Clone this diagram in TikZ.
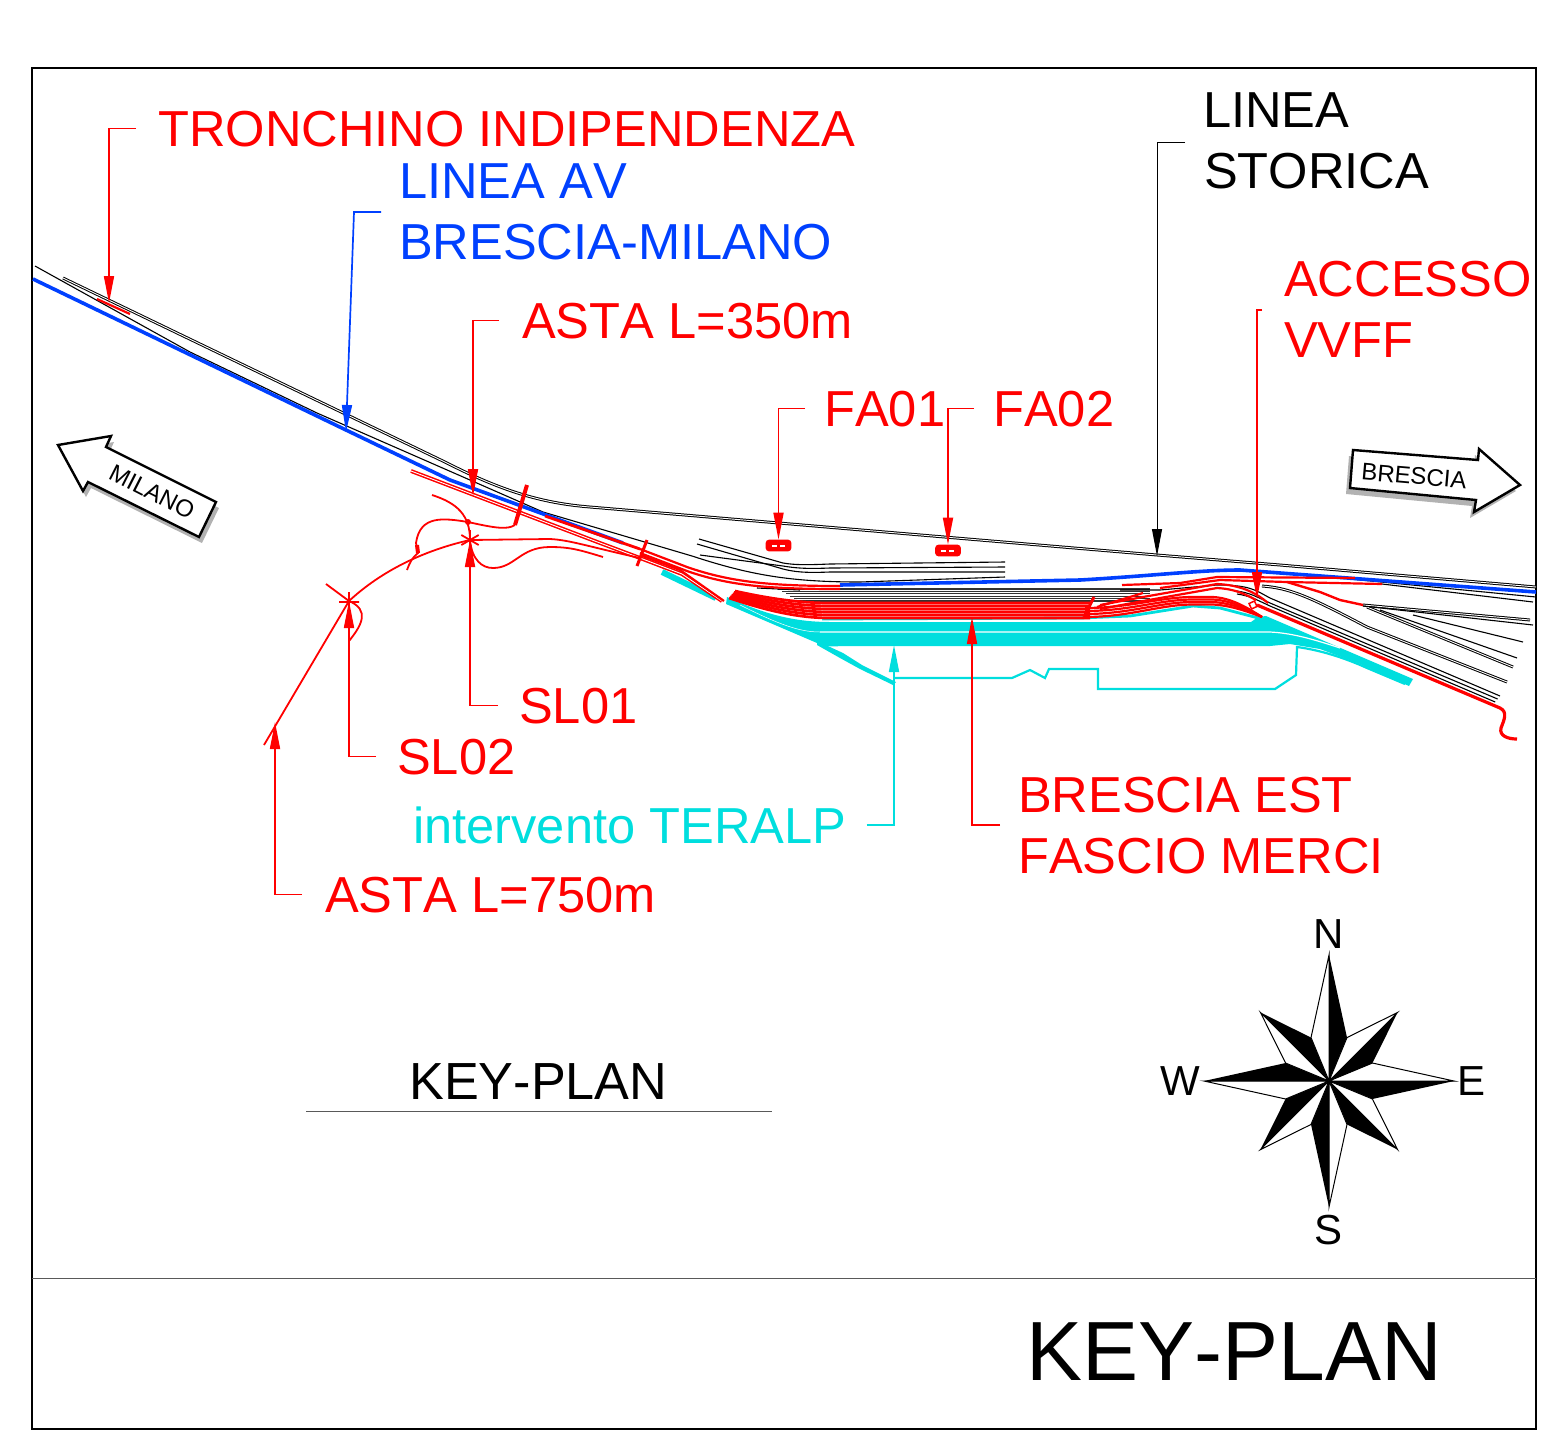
\documentclass[tikz,border=0pt]{standalone}
\usepackage{fontspec}
\setmainfont[Kerning=Off]{Liberation Sans}
\usetikzlibrary{arrows.meta, calc}
\definecolor{avblue}{RGB}{0,64,255}
\definecolor{tealp}{RGB}{0,222,222}
\tikzstyle{lbl}=[inner sep=0pt, anchor=base west, font=\fontsize{50.6}{60}\selectfont]
\tikzstyle{leader}=[line width=1.7pt, -{Triangle[length=27pt,width=10pt]}]
\tikzstyle{trk}=[black, line width=1.1pt]
\tikzstyle{dtrk}=[double=white, double distance=0.9pt, line width=1pt]
\tikzstyle{rtrk}=[red, line width=2.2pt]
\tikzstyle{cutl}=[red, line width=1.8pt]
\tikzstyle{fabox}=[shape=rectangle, rounded corners=2.5pt, draw=red, fill=red, line width=1.6pt, inner sep=0pt, minimum width=24pt, minimum height=10pt]
\tikzstyle{pointer}=[draw=black, fill=white, line width=2.4pt, line join=miter]
\newcommand{\milanopath}{(58,445) -- (111,436) -- (106,447) -- (216,502) -- (199,537) -- (88,482) -- (83,491) -- cycle}
\newcommand{\bresciapath}{(1353,450) -- (1478,460) -- (1479,449) -- (1520,485) -- (1474,512) -- (1476,500) -- (1350,488) -- cycle}
\begin{document}
\begin{tikzpicture}[x=1pt,y=-1pt]
\useasboundingbox (0,0) rectangle (1558,1438);
\draw[black, line width=1.6pt] (32,68) rectangle (1536,1429);
\draw[black!65, line width=1pt] (32,1278) -- (1536,1278);
%labels
\node[lbl, red] (tronchino) at (158,146) {TRONCHINO INDIPENDENZA};
\node[lbl, avblue] (lineaav) at (399,198) {LINEA AV};
\node[lbl, avblue] (bsmi) at (399,259) {BRESCIA-MILANO};
\node[lbl, red] (asta350) at (522,338) {ASTA L=350m};
\node[lbl, red] (fa01) at (824,426) {FA01};
\node[lbl, red] (fa02) at (993,426) {FA02};
\node[lbl] (linea) at (1203,127) {LINEA};
\node[lbl] (storica) at (1204,188) {STORICA};
\node[lbl, red] (accesso) at (1284,296) {ACCESSO};
\node[lbl, red] (vvff) at (1284,357) {VVFF};
\node[lbl, red] (sl01) at (519,723) {SL01};
\node[lbl, red] (sl02) at (397,774) {SL02};
\node[lbl, red] (asta750) at (325,912) {ASTA L=750m};
\node[lbl, tealp] (teralp) at (413,843) {intervento TERALP};
\node[lbl, red] (bsest) at (1018,812) {BRESCIA EST};
\node[lbl, red] (fascio) at (1018,873) {FASCIO MERCI};
\node[lbl, font=\fontsize{52.2}{60}\selectfont] (keyplan) at (409,1099) {KEY-PLAN};
\node[lbl, font=\fontsize{84}{90}\selectfont] (keybig) at (1026,1380) {KEY-PLAN};
\draw[black!65, line width=1pt] (306,1111) -- (772,1111);
%arrows to milano and brescia
\fill[black!30, shift={(3,6)}] \milanopath;
\draw[pointer] \milanopath;
\node[rotate=-27, inner sep=0pt, font=\fontsize{24}{28}\selectfont] (milano) at (152,492) {MILANO};
\fill[black!30, shift={(-4,6)}] \bresciapath;
\draw[pointer] \bresciapath;
\node[rotate=-5, inner sep=0pt, font=\fontsize{24}{28}\selectfont] (brescia) at (1414,476) {BRESCIA};
%black tracks
\draw[dtrk] (63,278) -- (447,463) .. controls (500,490) and (540,503) .. (590,507) -- (1157,555) -- (1280,565) -- (1536,587);
\draw[trk] (35,266) -- (190,352) -- (317,413) -- (543,512) -- (692,556) .. controls (750,575) and (790,582) .. (860,582) -- (1005,577);
\draw[trk] (699,539) -- (783,563) .. controls (795,565) and (805,565) .. (830,564) -- (1005,562);
\draw[trk] (697,544) -- (783,569) .. controls (795,572) and (805,573) .. (830,572) -- (1005,572);
\draw[trk] (700,555) -- (783,566) .. controls (795,568) and (805,569) .. (830,568) -- (1005,567);
\foreach \i in {0,...,5}{
\draw[black!80, line width=1.2pt] (778+4*\i,589+2.4*\i) -- (1150,589+2.4*\i);
}
\draw[trk] (757,588) -- (800,590);
\draw[trk] (1120,590) -- (1160,590) -- (1217,585) .. controls (1250,585) and (1255,590) .. (1270,598) -- (1500,696);
\foreach \j in {3,6}{
\draw[trk] (1237,588+\j) .. controls (1250,590+\j) and (1255,593+\j) .. (1270,600+\j) -- (1500-0.8*\j,696+\j);
}
\draw[dtrk] (1262,586) .. controls (1290,588) and (1310,597) .. (1367,627) -- (1507,682);
\draw[dtrk] (1367,607) -- (1513,667);
\draw[trk] (1380,610) -- (1517,658);
\draw[trk] (1413,615) -- (1523,642);
\draw[dtrk] (1363,605) -- (1530,620);
\draw[trk] (1363,606) -- (1533,625);
\draw[trk] (1382,584) -- (1533,602);
\draw[trk] (1350,579) -- (1536,597);
%blue
\draw[avblue, line width=3.6pt] (33,279) -- (346,430) -- (450,480) -- (623,543);
\draw[avblue, line width=3.6pt] (840,585) -- (1080,580) .. controls (1150,576) and (1200,570) .. (1240,570) -- (1536,592);
%teralp
\draw[tealp, line width=6pt] (662,572) -- (716,598);
\fill[tealp] (727,597) .. controls (760,612) and (790,622) .. (830,622) -- (1270,622) -- (1270,646) -- (845,646) .. controls (835,646) and (828,648) .. (817,643) -- (726,604) -- cycle;
\fill[tealp] (1258,617) -- (1266,616) -- (1413,679) -- (1409,686) -- (1360,664) -- (1320,649) -- (1290,644) -- (1270,646) -- (1240,630) -- cycle;
\fill[tealp] (817,641) -- (843,653) -- (862,665) -- (896,682) -- (893,685) -- (860,669) -- (840,658) -- (817,645) -- cycle;
\draw[white, line width=1.2pt] (820,632) -- (1270,632) .. controls (1290,633) and (1310,638) .. (1340,648);
\draw[white, line width=0.5pt] (740,605) .. controls (780,625) and (800,632) .. (820,632);
\draw[tealp, line width=2.8pt] (822,619) -- (1080,618) -- (1130,616) -- (1193,606) -- (1220,608) -- (1262,619);
\draw[tealp, line width=2.2pt] (895,678) -- (1012,678) -- (1030,670) -- (1045,678) -- (1049,669) -- (1098,669) -- (1098,689) -- (1275,689) -- (1296,675) -- (1297,647) .. controls (1320,650) and (1345,658) .. (1367,668) -- (1405,684);
%red
\draw[red, double=white, double distance=0.9pt, line width=1.5pt] (411,471) -- (600,543) -- (640,558) -- (682,574) -- (722,601);
\draw[red, line width=2.8pt] (545,516) -- (640,549);
\draw[rtrk] (97,299) -- (130,314);
\draw[rtrk] (640,549) -- (687,567) .. controls (730,582) and (770,586) .. (840,586);
\draw[rtrk] (640,553) -- (687,571) .. controls (730,586) and (770,589) .. (840,589);
\draw[rtrk] (640,555) -- (680,570) -- (724,601);
\draw[red, line width=4pt] (527,485) -- (515,525);
\draw[red, line width=3pt] (647,540) -- (637,566);
\foreach \i in {0,...,5}{
\draw[red, line width=2.7pt] (735-1.2*\i,591+1.4*\i) .. controls (762,597+2.4*\i) and (795,603+3*\i) .. (830,603+3*\i) -- (1090,603+3*\i);
}
\draw[rtrk] (1122,585) -- (1180,583) -- (1217,577) -- (1355,578);
\draw[rtrk] (1160,588) -- (1220,580) -- (1287,582) -- (1382,584);
\draw[rtrk] (1097,607) -- (1143,593);
\draw[rtrk] (1100,605) -- (1143,597) -- (1217,584) .. controls (1240,585) and (1255,592) .. (1268,603);
\draw[rtrk] (1100,609) -- (1143,601) -- (1217,588) .. controls (1235,589) and (1245,594) .. (1256,600);
\foreach \i in {0,1,2,3}{
\draw[rtrk] (1085,608+3*\i) .. controls (1130,608+3*\i) and (1160,597+2.5*\i) .. (1193,597+2.5*\i) -- (1213,597+2.5*\i) .. controls (1230,598+2.5*\i) and (1245,606+1.5*\i) .. (1262,617);
}
\draw[red, line width=2.4pt] (1287,582) -- (1320,592) -- (1340,600) -- (1363,605);
\draw[red, line width=3.2pt] (1257,605) -- (1500,708) .. controls (1508,712) and (1504,720) .. (1501,728) .. controls (1499,736) and (1508,739) .. (1517,739);
\draw[red, line width=1.5pt, rotate around={25:(1253,605)}] (1250,602) rectangle (1256,608);
\draw[red, line width=3pt] (1084,617) -- (1094,597);
%cuts
\coordinate (star1) at (470,540);
\coordinate (star2) at (349,601);
\foreach \a in {30,90,150,210,270,330}{
\draw[cutl] (star1) -- ++(\a:10);
}
\draw[cutl] (339,602) -- (359,602) (349,592) -- (349,610) (326,584) -- (349,601);
\draw[cutl] (264,745) -- (star2) .. controls (377,575) and (417,552) .. (star1) -- (550,539) .. controls (570,540) and (590,547) .. (640,558);
\draw[cutl] (star2) .. controls (370,610) and (362,625) .. (349,641);
\draw[cutl] (432,495) .. controls (457,503) and (470,515) .. (star1);
\draw[cutl] (515,525) .. controls (507,530) and (495,528) .. (468,522) .. controls (443,518) and (420,515) .. (416,543) -- (418,553) .. controls (412,558) and (410,562) .. (407,570);
\draw[cutl] (star1) .. controls (472,560) and (482,568) .. (493,568) .. controls (515,568) and (520,547) .. (550,547) .. controls (570,547) and (580,550) .. (603,557);
\draw[red, line width=4pt] (417,545) -- (418,553);
\fill[red] (468,522) circle (3);
%stops
\node[fabox] (stop1) at (778.5,545.5) {};
\node[fabox] (stop2) at (948,550.5) {};
\draw[white, line width=1.3pt] (772,546) -- (777,546) (780,546) -- (785,546) (941,551) -- (946,551) (949,551) -- (954,551);
%leaders
\coordinate (tiptron) at (109,303);
\coordinate (tipav) at (346,432);
\coordinate (avstart) at (381,212);
\coordinate (avbend) at (354,212);
\coordinate (tip350) at (473,496);
\coordinate (storstart) at (1185,142);
\coordinate (tipstor) at (1157,556);
\coordinate (accstart) at (1262,310);
\coordinate (tipacc) at (1257,599);
\coordinate (tip750) at (275,722);
\coordinate (tipter) at (894,645);
\coordinate (merstart) at (1000,825);
\coordinate (tipmer) at (972,617);
\draw[leader, red] ([xshift=-22pt]tronchino.west) -| (tiptron);
\draw[leader, avblue] (avstart) -- (avbend) -- (tipav);
\draw[leader, red] ([xshift=-23pt]asta350.west) -| (tip350);
\draw[leader, red] ([xshift=-19pt]fa01.west) -| (stop1.north);
\draw[leader, red] ([xshift=-19pt]fa02.west) -| (stop2.north);
\draw[leader, black, line width=0.9pt] (storstart) -| (tipstor);
\draw[leader, red] (accstart) -| (tipacc);
\draw[leader, red] ([xshift=-21pt]sl01.west) -| (star1);
\draw[leader, red] ([xshift=-21pt]sl02.west) -| (star2);
\draw[leader, red] ([xshift=-23pt]asta750.west) -| (tip750);
\draw[leader, tealp] ([xshift=20pt]teralp.east) -| (tipter);
\draw[leader, red] (merstart) -| (tipmer);
%compass
\begin{scope}[shift={(1329,1081)}]
\foreach \a/\r in {0/125,45/97,90/126,135/97,180/125,225/97,270/126,315/97}{
\draw[black, line width=1pt, fill=white] (0,0) -- (\a:\r) -- ({\a-22.5}:47) -- cycle;
\fill[black] (0,0) -- (\a:\r) -- ({\a+22.5}:47) -- cycle;
}
\end{scope}
\node[inner sep=0pt, anchor=base, font=\fontsize{42}{48}\selectfont] (north) at (1329,948) {N};
\node[inner sep=0pt, anchor=base, font=\fontsize{42}{48}\selectfont] (south) at (1328,1244) {S};
\node[inner sep=0pt, anchor=base, font=\fontsize{42}{48}\selectfont] (west) at (1180,1095) {W};
\node[inner sep=0pt, anchor=base, font=\fontsize{42}{48}\selectfont] (east) at (1471,1095) {E};
\end{tikzpicture}
\end{document}
